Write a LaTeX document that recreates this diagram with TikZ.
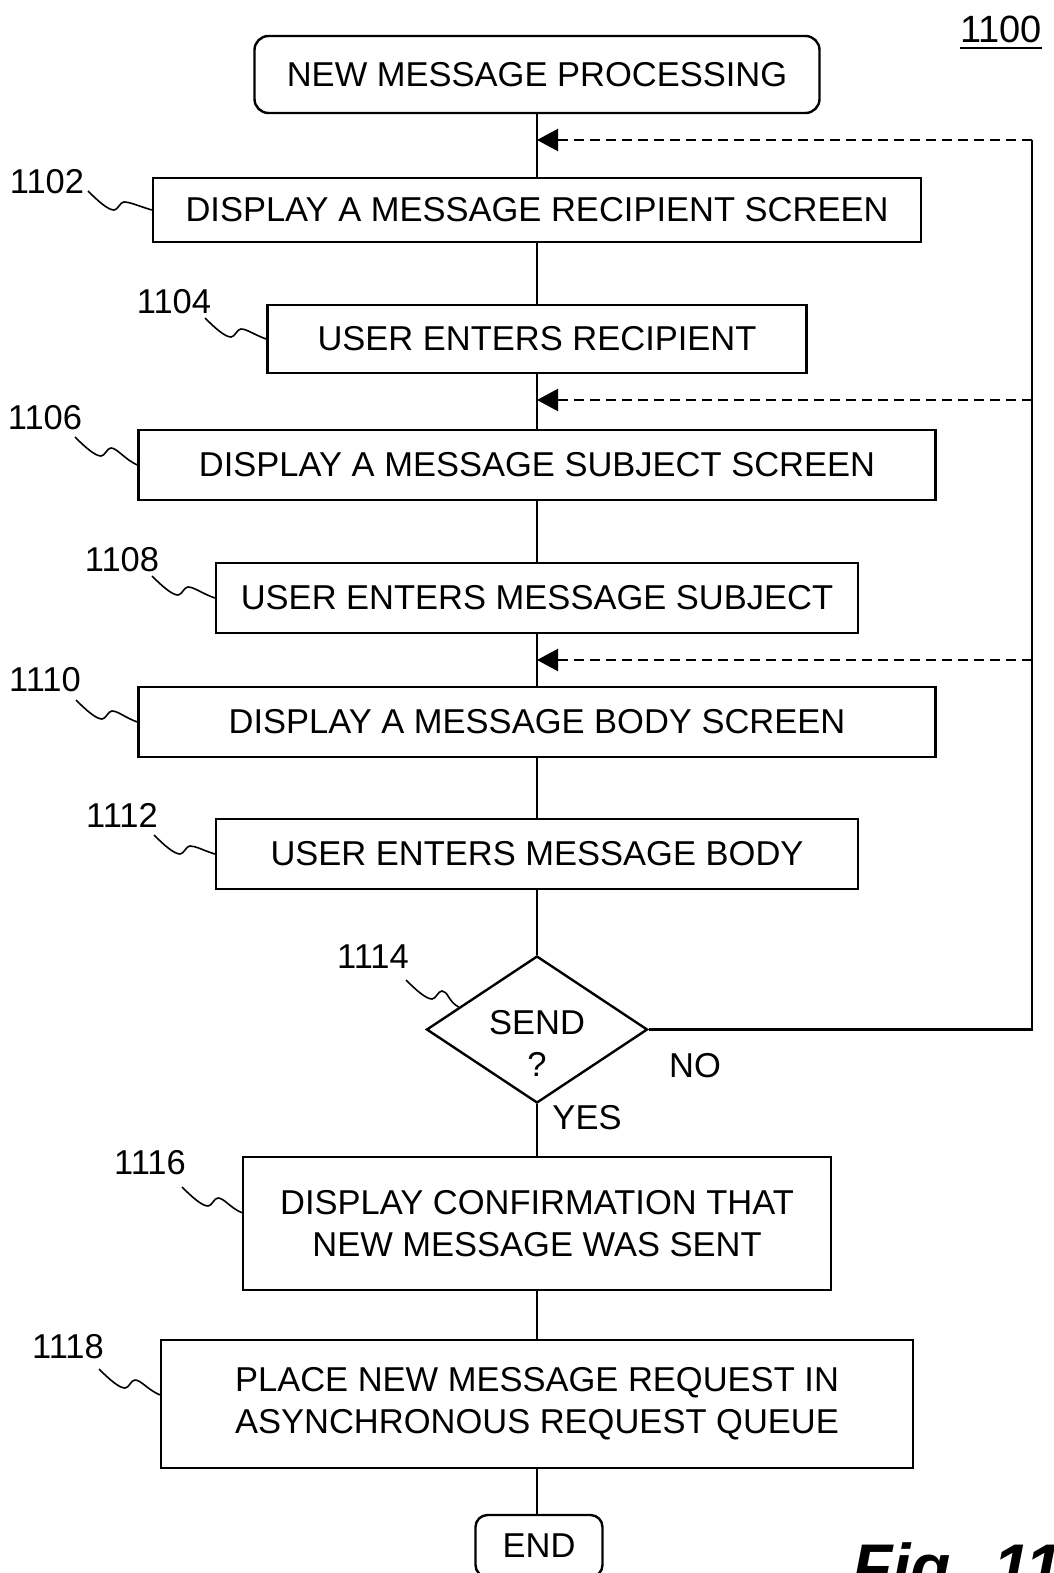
\documentclass[tikz,border=0pt]{standalone}
\usepackage{fontspec}
\setmainfont{Liberation Sans}
\usetikzlibrary{arrows.meta,shapes.geometric,calc}
\begin{document}
\begin{tikzpicture}[x=1pt,y=-1pt,
  every node/.style={font=\fontsize{34.5}{42}\selectfont},
  box/.style={draw,line width=2.4pt,inner sep=0pt,align=center},
  term/.style={box,rounded corners=14pt},
  lbl/.style={inner sep=0pt},
  flow/.style={line width=2.2pt},
  back/.style={line width=2.2pt,dash pattern=on 10pt off 6pt,-{Triangle[length=21pt,width=22pt]}},
  lead/.style={line width=1.6pt,
    to path={.. controls ($(\tikztostart)+(10,10)$) and ($(\tikztostart)+(20,19)$) .. ($(\tikztostart)+(26,19)$)
      .. controls ($(\tikztostart)+(30,19)$) and ($(\tikztostart)+(32,11)$) .. ($(\tikztostart)+(36,11)$)
      .. controls ($(\tikztostart)+(42,11)$) and ($(\tikztostart)!0.8!(\tikztotarget)$) .. (\tikztotarget)}}
]
\useasboundingbox (0,0) rectangle (1053,1573);

% title number
\node[lbl,font=\fontsize{38}{44}\selectfont,anchor=base] (l1100) at (1001,43) {1100};
\draw[line width=1.6pt] ($(l1100.base west)+(0,5)$) -- ($(l1100.base east)+(0,5)$);

% nodes
\node[term,minimum width=565,minimum height=77] (start) at (537,74.5) {NEW MESSAGE PROCESSING};
\node[box,minimum width=768,minimum height=64] (b1102) at (537,210) {DISPLAY A MESSAGE RECIPIENT SCREEN};
\node[box,minimum width=539,minimum height=68] (b1104) at (537,339) {USER ENTERS RECIPIENT};
\node[box,minimum width=797,minimum height=70] (b1106) at (537,465) {DISPLAY A MESSAGE SUBJECT SCREEN};
\node[box,minimum width=642,minimum height=70] (b1108) at (537,598) {USER ENTERS MESSAGE SUBJECT};
\node[box,minimum width=797,minimum height=70] (b1110) at (537,722) {DISPLAY A MESSAGE BODY SCREEN};
\node[box,minimum width=642,minimum height=70] (b1112) at (537,854) {USER ENTERS MESSAGE BODY};
\node[box,diamond,minimum width=221,minimum height=147] (d1114) at (537,1029.5) {};
\node[lbl,align=center] (t1114) at (537,1043) {SEND\\?};
\node[box,minimum width=588,minimum height=133] (b1116) at (537,1223.5) {DISPLAY CONFIRMATION THAT\\NEW MESSAGE WAS SENT};
\node[box,minimum width=752,minimum height=128] (b1118) at (537,1404) {PLACE NEW MESSAGE REQUEST IN\\ASYNCHRONOUS REQUEST QUEUE};
\node[term,rounded corners=12pt,minimum width=127,minimum height=62] (end) at (539,1546) {END};

% reference labels
\node[lbl] (l1102) at (47,182) {1102};
\node[lbl] (l1104) at (174,302) {1104};
\node[lbl] (l1106) at (45,418) {1106};
\node[lbl] (l1108) at (122,560) {1108};
\node[lbl] (l1110) at (45,680) {1110};
\node[lbl] (l1112) at (122,815) {1112};
\node[lbl] (l1114) at (373,957) {1114};
\node[lbl] (l1116) at (150,1163) {1116};
\node[lbl] (l1118) at (68,1347) {1118};

\coordinate (s1102) at (88,191);
\coordinate (s1104) at (205,318);
\coordinate (s1106) at (75,437);
\coordinate (s1108) at (152,576);
\coordinate (s1110) at (76,700);
\coordinate (s1112) at (154,835);
\coordinate (s1114) at (406,980);
\coordinate (s1116) at (182,1187);
\coordinate (s1118) at (99,1369);

\draw[lead] (s1102) to (b1102.west);
\draw[lead] (s1104) to (b1104.west);
\draw[lead] (s1106) to (b1106.west);
\draw[lead] (s1108) to (b1108.west);
\draw[lead] (s1110) to (b1110.west);
\draw[lead] (s1112) to (b1112.west);
\draw[lead] (s1114) to ($(d1114.west)!0.3!(d1114.north)$);
\draw[lead] (s1116) to ($(b1116.north west)!0.42!(b1116.south west)$);
\draw[lead] (s1118) to ($(b1118.north west)!0.43!(b1118.south west)$);

% main flow
\draw[flow] (start.south) -- (b1102.north);
\draw[flow] (b1102.south) -- (b1104.north);
\draw[flow] (b1104.south) -- (b1106.north);
\draw[flow] (b1106.south) -- (b1108.north);
\draw[flow] (b1108.south) -- (b1110.north);
\draw[flow] (b1110.south) -- (b1112.north);
\draw[flow] (b1112.south) -- (d1114.north);
\draw[flow] (d1114.south) -- (b1116.north);
\draw[flow] (b1116.south) -- (b1118.north);
\draw[flow] (b1118.south) -- (b1118.south |- end.north);

% loop back
\coordinate (r1) at (1032,140);
\coordinate (r2) at (1032,400);
\coordinate (r3) at (1032,660);
\coordinate (j1) at (537,140);
\coordinate (j2) at (537,400);
\coordinate (j3) at (537,660);
\draw[flow] (d1114.east) -- (d1114.east -| r1) -- (r1);
\draw[back] (r1) -- (j1);
\draw[back] (r2) -- (j2);
\draw[back] (r3) -- (j3);

\node[lbl] (no) at (695,1066) {NO};
\node[lbl] (yes) at (587,1118) {YES};

\node[lbl,font=\fontsize{66}{70}\selectfont\bfseries\itshape,anchor=base west] (fig) at (852,1590) {Fig. 11};
\end{tikzpicture}
\end{document}
